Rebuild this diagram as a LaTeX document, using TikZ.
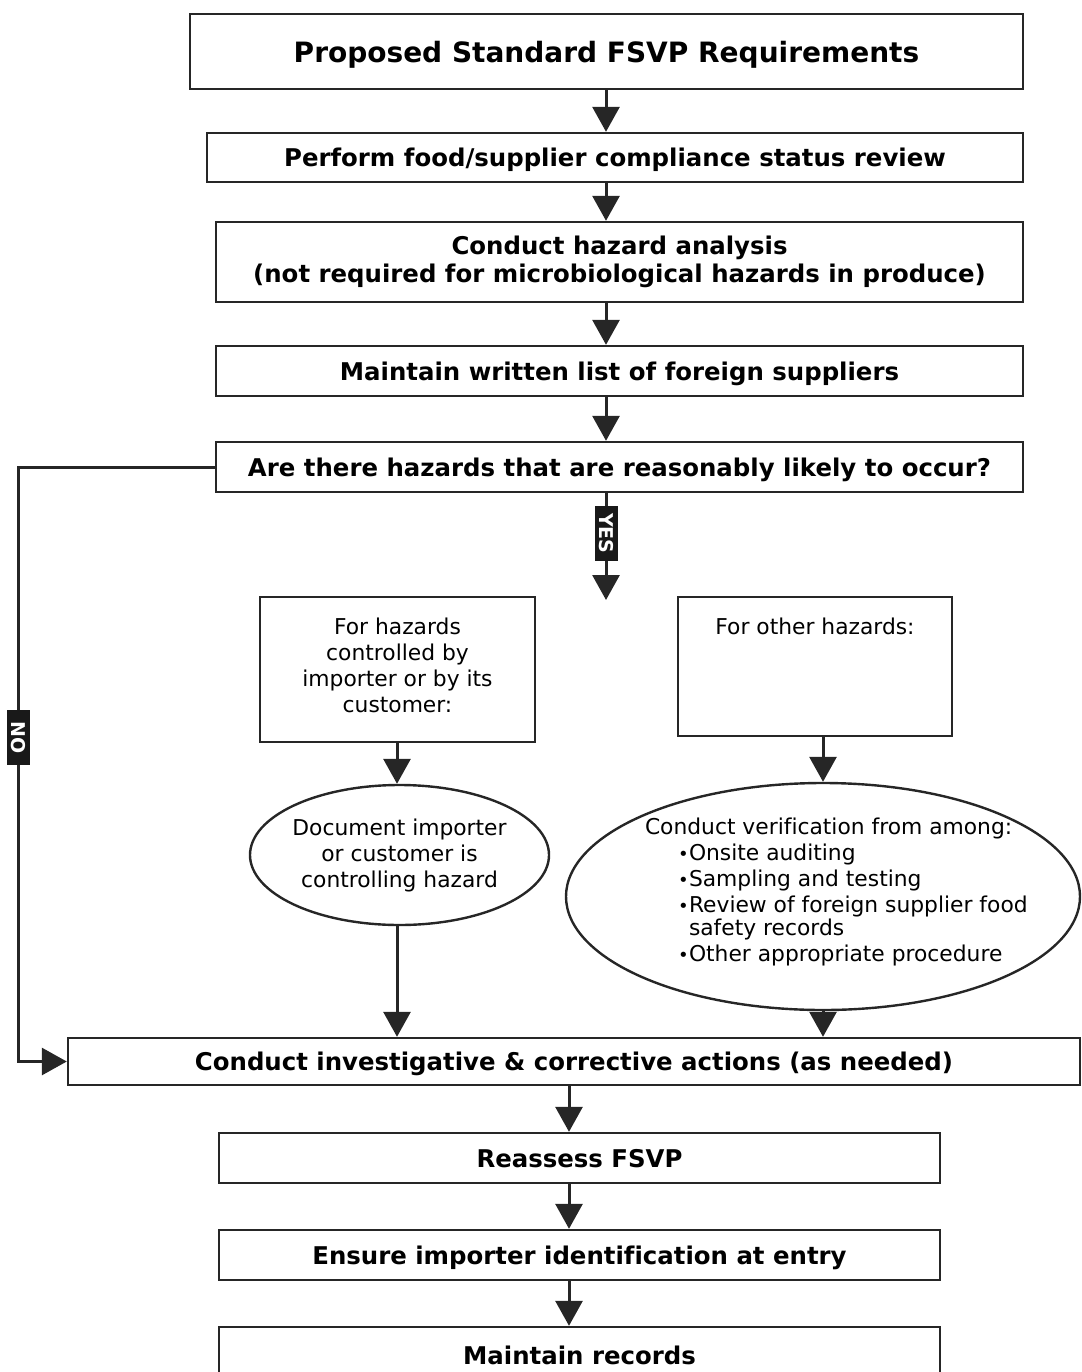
\documentclass[tikz,border=0pt]{standalone}
\usepackage{fontspec}
\setmainfont{DejaVu Sans}[Ligatures=NoCommon]
\usetikzlibrary{arrows.meta,shapes.geometric}
\begin{document}
\begin{tikzpicture}[x=1pt,y=-1pt,
  box/.style={draw=black!85, line width=2.4pt, rectangle, inner sep=0pt, align=center,
    font=\fontsize{24.4}{28}\selectfont\bfseries},
  one/.style={box, text height=23pt, text depth=5pt},
  title/.style={box, font=\fontsize{28}{30}\selectfont\bfseries, text height=28pt, text depth=5pt},
  plain/.style={draw=black!85, line width=2.4pt, rectangle, inner sep=0pt,
    font=\fontsize{21.8}{26}\selectfont},
  oval/.style={draw=black!85, line width=2.4pt, ellipse, inner ysep=-8pt, inner xsep=-8pt,
    font=\fontsize{21.8}{26}\selectfont},
  arr/.style={draw=black!85, line width=3pt, -{Triangle[width=27pt,length=25pt]}},
  tag/.style={fill=black!90, text=white, inner sep=0pt, minimum width=55pt, minimum height=23pt,
    rotate=-90, font=\fontsize{19}{19}\selectfont\bfseries},
]
\newcommand{\bul}{\makebox[11pt][l]{\fontsize{18}{18}\selectfont•}}
\useasboundingbox (0,0) rectangle (1081,1372);
\clip (0,0) rectangle (1081,1372);
\coordinate (ax) at (606,0);
\coordinate (bx) at (569,0);
\coordinate (nx) at (18,0);
\coordinate (lx) at (397,0);
\coordinate (rx) at (823,0);

\node[title, minimum width=833pt, minimum height=75pt] (b1) at (606.5,51.5) {Proposed Standard FSVP Requirements};
\node[one, minimum width=816pt, minimum height=49pt] (b2) at (615,157.5) {Perform food/supplier compliance status review};
\node[box, minimum width=807pt, minimum height=80pt] (b3) at (619.5,262) {Conduct hazard analysis\\(not required for microbiological hazards in produce)};
\node[one, minimum width=807pt, minimum height=50pt] (b4) at (619.5,371) {Maintain written list of foreign suppliers};
\node[one, minimum width=807pt, minimum height=50pt] (b5) at (619.5,467) {Are there hazards that are reasonably likely to occur?};

\node[plain] (lb) at (397.5,669.5) {\parbox[c][145pt][t]{275pt}{\centering\vspace*{21pt}For hazards\\controlled by\\importer or by its\\customer:}};
\node[plain] (rb) at (815,666.5) {\parbox[c][139pt][t]{274pt}{\centering\vspace*{21pt}For other hazards:}};

\node[oval, minimum width=299pt, minimum height=140pt, align=center] (le) at (399.5,855) {Document importer\\or customer is\\controlling hazard};
\node[oval, inner xsep=-40pt, minimum width=514pt, minimum height=227pt] (re) at (823,896.5) {\parbox{420pt}{\raggedright
\mbox{\hspace*{32pt}Conduct verification from among:}\\
\mbox{\hspace*{65pt}\bul Onsite auditing}\\
\mbox{\hspace*{65pt}\bul Sampling and testing}\\
\mbox{\hspace*{65pt}\bul Review of foreign supplier food}\\[-3pt]
\mbox{\hspace*{76pt}safety records}\\
\mbox{\hspace*{65pt}\bul Other appropriate procedure}\\[-12pt]\mbox{}}};

\node[box, text height=23pt, text depth=5pt, minimum width=1012pt, minimum height=47pt] (b6) at (574,1061.5) {Conduct investigative \& corrective actions (as needed)};
\node[one, minimum width=721pt, minimum height=50pt] (b7) at (579.5,1158) {Reassess FSVP};
\node[one, minimum width=721pt, minimum height=50pt] (b8) at (579.5,1255) {Ensure importer identification at entry};
\node[one, minimum width=721pt, minimum height=56pt] (b9) at (579.5,1355) {Maintain records};

\draw[arr] (b1.south -| ax) -- (b2.north -| ax);
\draw[arr] (b2.south -| ax) -- (b3.north -| ax);
\draw[arr] (b3.south -| ax) -- (b4.north -| ax);
\draw[arr] (b4.south -| ax) -- (b5.north -| ax);
\coordinate (yesend) at (606,600);
\draw[arr] (b5.south -| ax) -- node[tag, pos=0.375] (yes) {YES} (yesend);
\draw[arr] (b5.west) -- (b5.west -| nx) -- node[tag, pos=0.455] (no) {NO} (b6.west -| nx) -- (b6.west);

\draw[arr] (lb.south -| lx) -- (le.north -| lx);
\draw[arr] (rb.south -| rx) -- (re.north -| rx);
\draw[arr] (le.south -| lx) -- (b6.north -| lx);
\draw[arr] (re.south -| rx) -- (b6.north -| rx);

\draw[arr] (b6.south -| bx) -- (b7.north -| bx);
\draw[arr] (b7.south -| bx) -- (b8.north -| bx);
\draw[arr] (b8.south -| bx) -- (b9.north -| bx);
\end{tikzpicture}
\end{document}
